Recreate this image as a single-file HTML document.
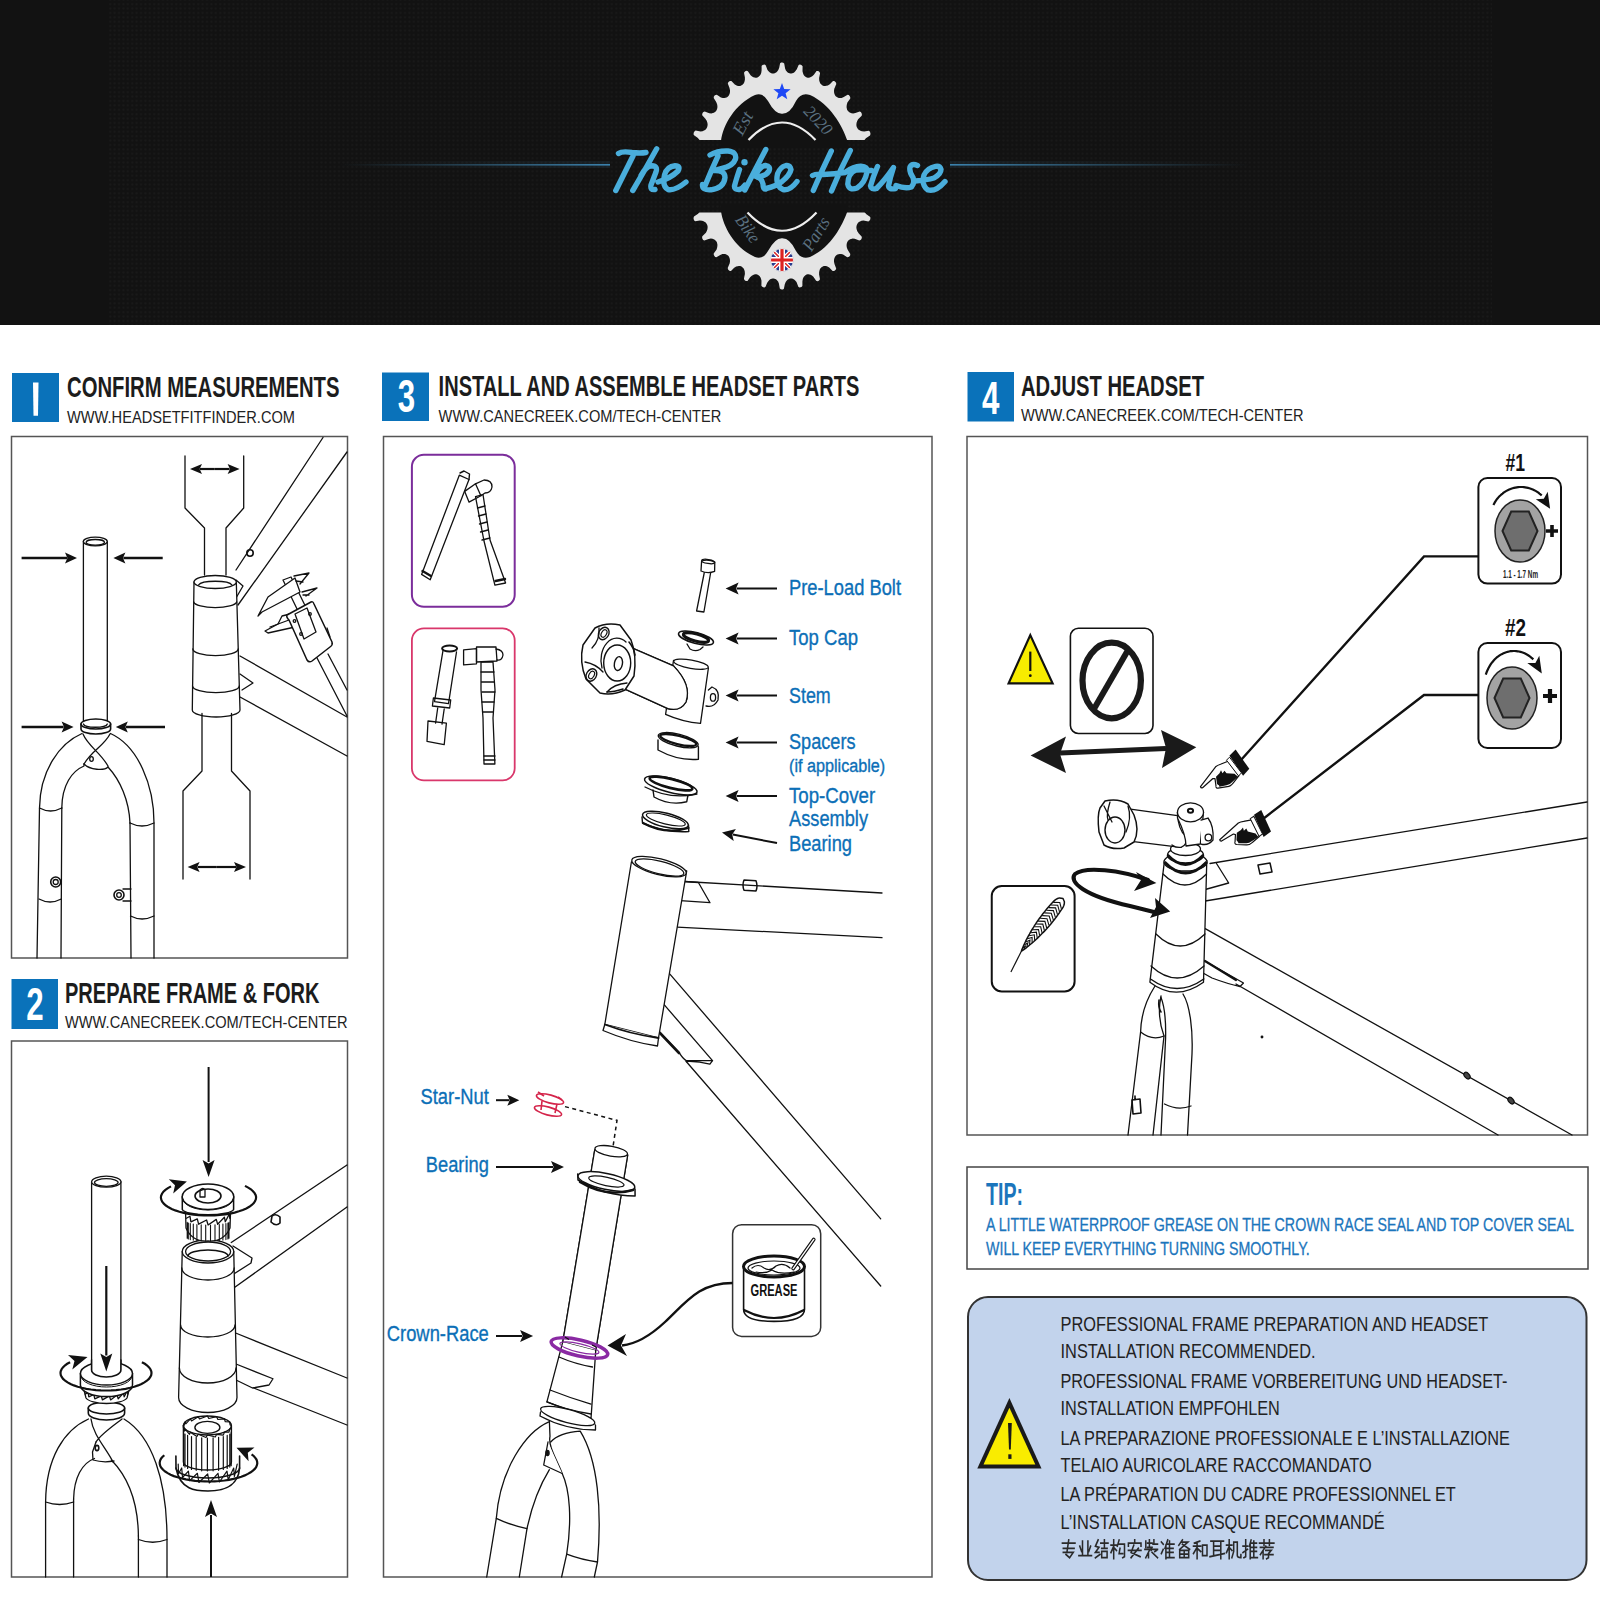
<!DOCTYPE html>
<html><head><meta charset="utf-8">
<style>
html,body{margin:0;padding:0;background:#fff;}
body{width:1600px;height:1600px;position:relative;overflow:hidden;font-family:"Liberation Sans",sans-serif;}
#hdr{position:absolute;left:0;top:0;width:1600px;height:325px;background:#121212;}
svg{position:absolute;left:0;top:0;}
</style></head><body>
<div id="hdr"></div>
<svg width="1600" height="1600" viewBox="0 0 1600 1600">
<defs>
<linearGradient id="glowL" x1="0" x2="1" y1="0" y2="0">
<stop offset="0" stop-color="#3a6f8f" stop-opacity="0"/>
<stop offset="1" stop-color="#3f8dbd" stop-opacity="0.9"/>
</linearGradient>
<linearGradient id="glowR" x1="0" x2="1" y1="0" y2="0">
<stop offset="0" stop-color="#3f8dbd" stop-opacity="0.9"/>
<stop offset="1" stop-color="#3a6f8f" stop-opacity="0"/>
</linearGradient>
<pattern id="dots" x="108" y="2" width="4.4" height="4.4" patternUnits="userSpaceOnUse"><circle cx="2.2" cy="2.2" r="1" fill="#1a1a1a"/></pattern>
<clipPath id="gclip"><rect x="600" y="40" width="400" height="100"/><rect x="600" y="212.5" width="400" height="100"/></clipPath>
</defs>
<rect x="108" y="0" width="1384" height="325" fill="url(#dots)"/>
<rect x="340" y="161" width="270" height="7" fill="url(#glowL)" opacity="0.12"/><rect x="340" y="164" width="270" height="1.6" fill="url(#glowL)"/>
<rect x="950" y="161" width="300" height="7" fill="url(#glowR)" opacity="0.12"/><rect x="950" y="164" width="300" height="1.6" fill="url(#glowR)"/>
<g clip-path="url(#gclip)">
<path fill="#e4e4e4" d="M783.2,62.7 L784.2,63.6 L785.1,68.5 L785.9,70.4 L786.8,71.6 L787.7,72.4 L788.6,73.0 L789.5,73.3 L790.4,73.5 L791.4,73.5 L792.3,73.3 L793.3,72.9 L794.4,72.2 L795.5,71.1 L796.8,69.2 L798.6,65.0 L799.7,64.6 L800.8,64.7 L801.7,65.2 L802.6,66.3 L802.5,71.3 L803.0,73.3 L803.6,74.7 L804.3,75.7 L805.1,76.5 L805.9,77.1 L806.8,77.5 L807.7,77.7 L808.7,77.7 L809.8,77.6 L810.9,77.1 L812.2,76.3 L813.9,74.8 L816.5,71.0 L817.7,70.9 L818.7,71.2 L819.5,71.9 L820.1,73.2 L819.1,78.1 L819.2,80.2 L819.6,81.7 L820.1,82.9 L820.7,83.9 L821.4,84.6 L822.2,85.2 L823.0,85.7 L824.0,85.9 L825.1,86.0 L826.3,85.8 L827.8,85.4 L829.8,84.2 L833.0,81.0 L834.2,81.1 L835.2,81.7 L835.9,82.6 L836.3,84.0 L834.3,88.7 L834.0,90.8 L834.1,92.4 L834.4,93.7 L834.8,94.8 L835.3,95.7 L836.0,96.5 L836.8,97.1 L837.7,97.6 L838.8,97.9 L840.1,98.0 L841.6,97.9 L843.8,97.1 L847.6,94.7 L848.8,95.1 L849.6,95.9 L850.2,96.9 L850.3,98.4 L847.4,102.6 L846.8,104.7 L846.6,106.3 L846.6,107.6 L846.9,108.8 L847.2,109.9 L847.8,110.8 L848.5,111.6 L849.3,112.2 L850.3,112.8 L851.5,113.2 L853.1,113.4 L855.4,113.1 L859.7,111.5 L860.8,112.1 L861.5,113.1 L861.9,114.2 L861.7,115.7 L858.1,119.3 L857.1,121.3 L856.6,122.8 L856.4,124.2 L856.4,125.4 L856.6,126.5 L857.0,127.6 L857.6,128.5 L858.3,129.4 L859.2,130.1 L860.4,130.8 L861.9,131.3 L864.2,131.5 L868.8,130.7 L869.8,131.6 L870.3,132.7 L870.5,133.9 L870.0,135.4 L865.9,138.3 L864.5,140.0 L863.7,141.4 L863.3,142.8 L863.1,144.0 L863.2,145.1 L863.4,146.2 L863.8,147.3 L864.3,148.3 L865.1,149.2 L866.2,150.1 L867.6,150.9 L869.9,151.6 L874.5,151.7 L875.3,152.8 L875.7,154.0 L875.7,155.3 L875.0,156.6 L870.4,158.6 L868.7,160.1 L867.8,161.4 L867.1,162.6 L866.7,163.8 L866.6,164.9 L866.6,166.0 L866.8,167.2 L867.2,168.2 L867.8,169.3 L868.7,170.4 L870.0,171.5 L872.2,172.6 L876.7,173.7 L877.4,174.9 L877.5,176.2 L877.3,177.4 L876.4,178.6 L871.5,179.7 L869.7,180.8 L868.5,181.8 L867.7,182.9 L867.1,184.0 L866.7,185.1 L866.6,186.2 L866.6,187.4 L866.8,188.5 L867.3,189.7 L868.0,191.0 L869.1,192.3 L871.0,193.8 L875.3,195.7 L875.7,197.1 L875.6,198.3 L875.2,199.5 L874.1,200.5 L869.2,200.6 L867.2,201.3 L865.9,202.1 L864.9,203.0 L864.2,204.0 L863.6,205.0 L863.3,206.0 L863.1,207.1 L863.2,208.3 L863.4,209.6 L863.9,210.9 L864.8,212.4 L866.4,214.3 L870.3,217.0 L870.4,218.4 L870.2,219.6 L869.6,220.6 L868.4,221.4 L863.5,220.5 L861.5,220.8 L860.0,221.4 L858.9,222.1 L858.1,222.8 L857.4,223.7 L856.9,224.7 L856.6,225.7 L856.4,226.9 L856.4,228.1 L856.7,229.5 L857.3,231.2 L858.6,233.3 L861.8,236.7 L861.8,238.1 L861.3,239.2 L860.6,240.1 L859.3,240.6 L854.7,238.8 L852.7,238.6 L851.2,238.9 L850.0,239.3 L849.1,239.9 L848.3,240.6 L847.6,241.5 L847.1,242.4 L846.8,243.5 L846.6,244.7 L846.6,246.1 L846.9,247.8 L847.8,250.1 L850.3,254.1 L850.1,255.4 L849.4,256.4 L848.5,257.1 L847.2,257.3 L843.1,254.6 L841.2,254.1 L839.7,254.0 L838.5,254.2 L837.5,254.5 L836.6,255.1 L835.8,255.7 L835.2,256.5 L834.7,257.5 L834.3,258.6 L834.0,260.0 L834.0,261.7 L834.5,264.1 L836.2,268.4 L835.7,269.7 L834.9,270.5 L834.0,270.9 L832.6,270.9 L829.2,267.4 L827.4,266.5 L826.0,266.1 L824.8,266.0 L823.8,266.1 L822.8,266.4 L822.0,266.9 L821.2,267.5 L820.5,268.3 L819.9,269.3 L819.5,270.6 L819.1,272.2 L819.1,274.6 L820.0,279.3 L819.3,280.3 L818.4,280.9 L817.4,281.2 L816.1,280.8 L813.4,276.7 L811.9,275.4 L810.6,274.7 L809.5,274.4 L808.4,274.3 L807.5,274.3 L806.6,274.6 L805.7,275.0 L804.9,275.7 L804.1,276.5 L803.4,277.6 L802.8,279.1 L802.4,281.4 L802.4,286.1 L801.5,287.0 L800.5,287.3 L799.4,287.4 L798.3,286.7 L796.5,282.1 L795.2,280.5 L794.1,279.6 L793.1,279.0 L792.1,278.6 L791.1,278.5 L790.2,278.5 L789.3,278.7 L788.4,279.2 L787.5,279.8 L786.6,280.7 L785.7,282.0 L784.8,284.2 L783.9,288.7 L782.9,289.4 L781.9,289.5 L780.8,289.3 L779.8,288.4 L778.9,283.5 L778.1,281.6 L777.2,280.4 L776.3,279.6 L775.4,279.0 L774.5,278.7 L773.6,278.5 L772.6,278.5 L771.7,278.7 L770.7,279.1 L769.6,279.8 L768.5,280.9 L767.2,282.8 L765.4,287.0 L764.3,287.4 L763.2,287.3 L762.3,286.8 L761.4,285.7 L761.5,280.7 L761.0,278.7 L760.4,277.3 L759.7,276.3 L758.9,275.5 L758.1,274.9 L757.2,274.5 L756.3,274.3 L755.3,274.3 L754.2,274.4 L753.1,274.9 L751.8,275.7 L750.1,277.2 L747.5,281.0 L746.3,281.1 L745.3,280.8 L744.5,280.1 L743.9,278.8 L744.9,273.9 L744.8,271.8 L744.4,270.3 L743.9,269.1 L743.3,268.1 L742.6,267.4 L741.8,266.8 L741.0,266.3 L740.0,266.1 L738.9,266.0 L737.7,266.2 L736.2,266.6 L734.2,267.8 L731.0,271.0 L729.8,270.9 L728.8,270.3 L728.1,269.4 L727.7,268.0 L729.7,263.3 L730.0,261.2 L729.9,259.6 L729.6,258.3 L729.2,257.2 L728.7,256.3 L728.0,255.5 L727.2,254.9 L726.3,254.4 L725.2,254.1 L723.9,254.0 L722.4,254.1 L720.2,254.9 L716.4,257.3 L715.2,256.9 L714.4,256.1 L713.8,255.1 L713.7,253.6 L716.6,249.4 L717.2,247.3 L717.4,245.7 L717.4,244.4 L717.1,243.2 L716.8,242.1 L716.2,241.2 L715.5,240.4 L714.7,239.8 L713.7,239.2 L712.5,238.8 L710.9,238.6 L708.6,238.9 L704.3,240.5 L703.2,239.9 L702.5,238.9 L702.1,237.8 L702.3,236.3 L705.9,232.7 L706.9,230.7 L707.4,229.2 L707.6,227.8 L707.6,226.6 L707.4,225.5 L707.0,224.4 L706.4,223.5 L705.7,222.6 L704.8,221.9 L703.6,221.2 L702.1,220.7 L699.8,220.5 L695.2,221.3 L694.2,220.4 L693.7,219.3 L693.5,218.1 L694.0,216.6 L698.1,213.7 L699.5,212.0 L700.3,210.6 L700.7,209.2 L700.9,208.0 L700.8,206.9 L700.6,205.8 L700.2,204.7 L699.7,203.7 L698.9,202.8 L697.8,201.9 L696.4,201.1 L694.1,200.4 L689.5,200.3 L688.7,199.2 L688.3,198.0 L688.3,196.7 L689.0,195.4 L693.6,193.4 L695.3,191.9 L696.2,190.6 L696.9,189.4 L697.3,188.2 L697.4,187.1 L697.4,186.0 L697.2,184.8 L696.8,183.8 L696.2,182.7 L695.3,181.6 L694.0,180.5 L691.8,179.4 L687.3,178.3 L686.6,177.1 L686.5,175.8 L686.7,174.6 L687.6,173.4 L692.5,172.3 L694.3,171.2 L695.5,170.2 L696.3,169.1 L696.9,168.0 L697.3,166.9 L697.4,165.8 L697.4,164.6 L697.2,163.5 L696.7,162.3 L696.0,161.0 L694.9,159.7 L693.0,158.2 L688.7,156.3 L688.3,154.9 L688.4,153.7 L688.8,152.5 L689.9,151.5 L694.8,151.4 L696.8,150.7 L698.1,149.9 L699.1,149.0 L699.8,148.0 L700.4,147.0 L700.7,146.0 L700.9,144.9 L700.8,143.7 L700.6,142.4 L700.1,141.1 L699.2,139.6 L697.6,137.7 L693.7,135.0 L693.6,133.6 L693.8,132.4 L694.4,131.4 L695.6,130.6 L700.5,131.5 L702.5,131.2 L704.0,130.6 L705.1,129.9 L705.9,129.2 L706.6,128.3 L707.1,127.3 L707.4,126.3 L707.6,125.1 L707.6,123.9 L707.3,122.5 L706.7,120.8 L705.4,118.7 L702.2,115.3 L702.2,113.9 L702.7,112.8 L703.4,111.9 L704.7,111.4 L709.3,113.2 L711.3,113.4 L712.8,113.1 L714.0,112.7 L714.9,112.1 L715.7,111.4 L716.4,110.5 L716.9,109.6 L717.2,108.5 L717.4,107.3 L717.4,105.9 L717.1,104.2 L716.2,101.9 L713.7,97.9 L713.9,96.6 L714.6,95.6 L715.5,94.9 L716.8,94.7 L720.9,97.4 L722.8,97.9 L724.3,98.0 L725.5,97.8 L726.5,97.5 L727.4,96.9 L728.2,96.3 L728.8,95.5 L729.3,94.5 L729.7,93.4 L730.0,92.0 L730.0,90.3 L729.5,87.9 L727.8,83.6 L728.3,82.3 L729.1,81.5 L730.0,81.1 L731.4,81.1 L734.8,84.6 L736.6,85.5 L738.0,85.9 L739.2,86.0 L740.2,85.9 L741.2,85.6 L742.0,85.1 L742.8,84.5 L743.5,83.7 L744.1,82.7 L744.5,81.4 L744.9,79.8 L744.9,77.4 L744.0,72.7 L744.7,71.7 L745.6,71.1 L746.6,70.8 L747.9,71.2 L750.6,75.3 L752.1,76.6 L753.4,77.3 L754.5,77.6 L755.6,77.7 L756.5,77.7 L757.4,77.4 L758.3,77.0 L759.1,76.3 L759.9,75.5 L760.6,74.4 L761.2,72.9 L761.6,70.6 L761.6,65.9 L762.5,65.0 L763.5,64.7 L764.6,64.6 L765.7,65.3 L767.5,69.9 L768.8,71.5 L769.9,72.4 L770.9,73.0 L771.9,73.4 L772.9,73.5 L773.8,73.5 L774.7,73.3 L775.6,72.8 L776.5,72.2 L777.4,71.3 L778.3,70.0 L779.2,67.8 L780.1,63.3 L781.1,62.6 L782.1,62.5Z"/>
</g>
<path fill="#121212" d="M721,147 L721,141 C723,125 735,104 755,95 Q763,92 768,101 Q775,114 782,113.75 Q790,114 796,101 Q801,92 810,95 C830,104 842,125 847.5,141 L847.5,147 Z"/>
<path fill="#121212" d="M721,205 L721,211 C723,227 735,248 755,257 Q763,260 768,251 Q775,238 782,238.25 Q790,238 796,251 Q801,260 810,257 C830,248 842,227 847.5,211 L847.5,205 Z"/>
<path d="M748.5,140 Q782,105 815.5,140" fill="none" stroke="#eee" stroke-width="2.2"/>
<path d="M747.5,212.5 Q782,249 816.5,212.5" fill="none" stroke="#eee" stroke-width="2.2"/>
<path d="M618.5,153.5 Q622,151 632,152.5 Q640,153.5 646,152.5 M633,156 Q626,170 615.8,190.5 M656.7,148.8 Q645,170 632.8,190.5 M641,175.5 Q646,166 652,165.8 Q658,166 656,172 L651,185 Q650,190.5 655,189.5 M658,182 Q671,178 678,171 Q681,166 675,165.8 Q667,166.5 664.5,175 Q662,186 668,189.5 Q675,191 686,182 M710,155 Q718,150.5 728,151 Q737,152 735.5,159 Q733,166 722,168.5 L714,170.5 Q725,170 725,177.5 Q724,188 711,189.8 Q702,190.5 702.5,184.5 M718,156 Q711,171 704.5,187 M739.5,169.5 Q736,180 734.5,186 Q734,190 739.5,189.5 Q743,188 745,185 M765.8,149.5 Q755,170 744.8,190 M755,176 Q760,166 765.5,165.5 Q771,166 769,171 Q766,176 757,177 Q762,178 763,184 Q763,189.5 766,189 M766,188.5 Q777,186 782,181.5 Q790,175 791,169.5 Q790,165 786,165.5 Q780,167 777.5,174 Q775,186 783,189.5 Q790,191 797,181.5 M831.3,151 Q822,170 813.3,190.5 M850.3,150.5 Q840,170 831.5,191 M812.5,175.5 Q816,173.5 823,174.5 Q835,174 845,172.5 M845,172.5 Q854,166 861,166.3 Q868,166.5 867,172 Q865,183 857,188 Q849,191 847.8,184 Q848,173 856,170 Q864,169.5 871.5,170.5 M877.5,166.5 Q873,177 870.5,186 Q871,190 876.5,188.5 Q885,180 893.5,167.5 Q890,178 888.5,186 Q889,190 895.5,188.5 M896,185.5 Q905,189 911.5,187 Q915,183 913,177.5 Q909,172 910,167 Q912,163 917.5,165.5 M915.5,181 Q927,180 934,178 Q941,174 941,169.5 Q940,165.5 935.5,166.3 Q927,168 924,175 Q921,185 928,190 Q936,192 945,181.5 " fill="none" stroke="#4aaedc" stroke-width="5.4" stroke-linecap="round" stroke-linejoin="round"/><circle cx="744.5" cy="162.3" r="3.2" fill="#4aaedc"/>
<rect x="11.5" y="436.5" width="336" height="521.5" fill="none" stroke="#555" stroke-width="1.5"/>
<rect x="11.5" y="1041" width="336" height="536" fill="none" stroke="#555" stroke-width="1.5"/>
<rect x="383.5" y="436.5" width="548.5" height="1140.5" fill="none" stroke="#555" stroke-width="1.5"/>
<rect x="967" y="436.5" width="620.5" height="698.5" fill="none" stroke="#555" stroke-width="1.5"/>
<rect x="967" y="1167" width="621" height="102" fill="none" stroke="#444" stroke-width="1.5"/>
<rect x="968" y="1297" width="618.5" height="283" rx="20" ry="20" fill="#c2d3ec" stroke="#333" stroke-width="2"/>
<rect x="12" y="373" width="47" height="49" fill="#0a72ba"/>
<path d="M33,382.5 L38.5,382.5 L38,415.8 L33.5,415.8 Z" fill="#fff"/><text x="67" y="397" font-family="Liberation Sans" font-size="29.5" font-weight="bold" fill="#1c1c1c" text-anchor="start" textLength="272.5" lengthAdjust="spacingAndGlyphs">CONFIRM MEASUREMENTS</text>
<text x="67" y="422.5" font-family="Liberation Sans" font-size="16.5" font-weight="normal" fill="#222" text-anchor="start" textLength="228" lengthAdjust="spacingAndGlyphs">WWW.HEADSETFITFINDER.COM</text>
<rect x="382" y="372.5" width="47" height="48.5" fill="#0a72ba"/>
<text x="406.5" y="412" font-family="Liberation Sans" font-size="46" font-weight="bold" fill="#fff" text-anchor="middle" transform="translate(406.5 0) scale(0.68 1) translate(-406.5 0)">3</text>
<text x="438.6" y="395.7" font-family="Liberation Sans" font-size="29.5" font-weight="bold" fill="#1c1c1c" text-anchor="start" textLength="420.7" lengthAdjust="spacingAndGlyphs">INSTALL AND ASSEMBLE HEADSET PARTS</text>
<text x="438.6" y="422" font-family="Liberation Sans" font-size="16.5" font-weight="normal" fill="#222" text-anchor="start" textLength="282.7" lengthAdjust="spacingAndGlyphs">WWW.CANECREEK.COM/TECH-CENTER</text>
<rect x="967.5" y="372" width="46.5" height="49.5" fill="#0a72ba"/>
<text x="990.6" y="414.2" font-family="Liberation Sans" font-size="46" font-weight="bold" fill="#fff" text-anchor="middle" transform="translate(990.6 0) scale(0.68 1) translate(-990.6 0)">4</text>
<text x="1021" y="396" font-family="Liberation Sans" font-size="29.5" font-weight="bold" fill="#1c1c1c" text-anchor="start" textLength="183" lengthAdjust="spacingAndGlyphs">ADJUST HEADSET</text>
<text x="1021" y="421" font-family="Liberation Sans" font-size="16.5" font-weight="normal" fill="#222" text-anchor="start" textLength="282.6" lengthAdjust="spacingAndGlyphs">WWW.CANECREEK.COM/TECH-CENTER</text>
<rect x="11.5" y="979" width="46.5" height="50" fill="#0a72ba"/>
<text x="35" y="1020.5" font-family="Liberation Sans" font-size="46" font-weight="bold" fill="#fff" text-anchor="middle" transform="translate(35 0) scale(0.68 1) translate(-35 0)">2</text>
<text x="65" y="1002.5" font-family="Liberation Sans" font-size="29.5" font-weight="bold" fill="#1c1c1c" text-anchor="start" textLength="254.5" lengthAdjust="spacingAndGlyphs">PREPARE FRAME &amp; FORK</text>
<text x="65" y="1027.5" font-family="Liberation Sans" font-size="16.5" font-weight="normal" fill="#222" text-anchor="start" textLength="282.5" lengthAdjust="spacingAndGlyphs">WWW.CANECREEK.COM/TECH-CENTER</text>
<text x="986" y="1204.5" font-family="Liberation Sans" font-size="31" font-weight="bold" fill="#1b75bc" text-anchor="start" textLength="37" lengthAdjust="spacingAndGlyphs">TIP:</text>
<text x="986" y="1230.6" font-family="Liberation Sans" font-size="19" font-weight="normal" fill="#1b75bc" text-anchor="start" textLength="588" lengthAdjust="spacingAndGlyphs" stroke="#1b75bc" stroke-width="0.3">A LITTLE WATERPROOF GREASE ON THE CROWN RACE SEAL AND TOP COVER SEAL</text>
<text x="986" y="1255.4" font-family="Liberation Sans" font-size="19" font-weight="normal" fill="#1b75bc" text-anchor="start" textLength="323.8" lengthAdjust="spacingAndGlyphs" stroke="#1b75bc" stroke-width="0.3">WILL KEEP EVERYTHING TURNING SMOOTHLY.</text>
<text x="1060.5" y="1330.8" font-family="Liberation Sans" font-size="20.6" font-weight="normal" fill="#222" text-anchor="start" textLength="427.8" lengthAdjust="spacingAndGlyphs">PROFESSIONAL FRAME PREPARATION AND HEADSET</text>
<text x="1060.5" y="1358.4" font-family="Liberation Sans" font-size="20.6" font-weight="normal" fill="#222" text-anchor="start" textLength="255.1" lengthAdjust="spacingAndGlyphs">INSTALLATION RECOMMENDED.</text>
<text x="1060.5" y="1387.7" font-family="Liberation Sans" font-size="20.6" font-weight="normal" fill="#222" text-anchor="start" textLength="446.9" lengthAdjust="spacingAndGlyphs">PROFESSIONAL FRAME VORBEREITUNG UND HEADSET-</text>
<text x="1060.5" y="1415.3" font-family="Liberation Sans" font-size="20.6" font-weight="normal" fill="#222" text-anchor="start" textLength="219.4" lengthAdjust="spacingAndGlyphs">INSTALLATION EMPFOHLEN</text>
<text x="1060.5" y="1444.5" font-family="Liberation Sans" font-size="20.6" font-weight="normal" fill="#222" text-anchor="start" textLength="449.3" lengthAdjust="spacingAndGlyphs">LA PREPARAZIONE PROFESSIONALE E L’INSTALLAZIONE</text>
<text x="1060.5" y="1472.2" font-family="Liberation Sans" font-size="20.6" font-weight="normal" fill="#222" text-anchor="start" textLength="311.2" lengthAdjust="spacingAndGlyphs">TELAIO AURICOLARE RACCOMANDATO</text>
<text x="1060.5" y="1501.4" font-family="Liberation Sans" font-size="20.6" font-weight="normal" fill="#222" text-anchor="start" textLength="395.3" lengthAdjust="spacingAndGlyphs">LA PRÉPARATION DU CADRE PROFESSIONNEL ET</text>
<text x="1060.5" y="1529" font-family="Liberation Sans" font-size="20.6" font-weight="normal" fill="#222" text-anchor="start" textLength="324.2" lengthAdjust="spacingAndGlyphs">L’INSTALLATION CASQUE RECOMMANDÉ</text>
<path d="M1009.4,1398 L1041.5,1468.5 L977.3,1468.5 Z" fill="#1a1a1a"/><path d="M1009.4,1407.7 L1035.3,1464.5 L983.5,1464.5 Z" fill="#f9ec00"/>
<path d="M1008,1423 L1011.8,1423 L1010.8,1449.5 L1009,1449.5 Z" fill="#1a1a1a"/><rect x="1008.3" y="1454.3" width="3.2" height="4.6" fill="#1a1a1a"/>
<g fill="none" stroke="#111" stroke-width="1.3" stroke-linejoin="round" stroke-linecap="round"><path d="M83.4,541.5 L83.4,722 M107.3,541.5 L107.3,722"/><ellipse cx="95.3" cy="541.5" rx="11.95" ry="4.3" fill="#fff"/><ellipse cx="95.3" cy="542.3" rx="9.2" ry="2.8"/><path d="M81,724 A14.6,5 0 0,0 110.6,724 A14.6,5 0 0,0 81,724 Z" fill="#fff" stroke-width="1.6"/><path d="M81,724 L81,729 A14.6,5 0 0,0 110.6,729 L110.6,724" stroke-width="1.6"/><path d="M83.4,724 A12,3.6 0 0,0 107.3,724" /><path d="M82,733.5 C60,743 40,770 39.5,808 L37,958"/><path d="M61.8,808 C62,785 72,771 84,766 L84,764"/><path d="M110.5,733.5 C138,746 154,785 154,823 L154,958"/><path d="M130,823 C129,800 120,780 108,767"/><path d="M83,734 C88,746 100,752 108,766 M110,734 C104,746 92,750 84,764"/><path d="M84,764 C90,770 104,771 108,767"/><ellipse cx="91.5" cy="759" rx="1.8" ry="2.3"/><path d="M61.8,808 L61,958 M130,823 L131,958"/><path d="M39.5,808 Q50.5,814 61.8,808 M39,899 Q50,905 61.3,899 M130,823 Q142,829 154,823 M130.5,916 Q142,922 154,916"/><circle cx="55.7" cy="882" r="5" stroke-width="1.6"/><circle cx="55.7" cy="882" r="2.5"/><circle cx="119" cy="895" r="5" stroke-width="1.6"/><circle cx="119" cy="895" r="2.3"/><path d="M123,889 L131,889 M123,901 L131,901"/><path d="M323,437.5 L236,570 M347,452 L238,605 M240,656 L347,717 M240,697 L347,756"/><circle cx="250" cy="553" r="3.2" stroke-width="1.6"/><path d="M236,580 L243,586 L236,598 M240,674 L253,683 L242,690"/></g><g fill="none" stroke="#111" stroke-width="1.3" stroke-linejoin="round" stroke-linecap="round"><path d="M194,582 L192.3,710 A23.8,7 0 0,0 240,710 L236.3,582 Z" fill="#fff"/><ellipse cx="215.15" cy="582" rx="21.15" ry="6.5" fill="#fff"/><path d="M198.5,585 A17,4.5 0 0,1 232,585"/><path d="M193.7,602 A21.5,6 0 0,0 236.6,602 M192.8,649 A22.5,6.5 0 0,0 238.2,649 M192.5,686 A23,6.5 0 0,0 239.3,686"/><path d="M185,456 L185,508 L204.5,528 L204.5,575 M243.7,456 L243.7,508 L226,528 L226,575"/><path d="M202,713.5 L202,771 L183,791 L183,879 M231.5,713.5 L231.5,771 L250,791 L250,879"/></g><line x1="214.8" y1="469.0" x2="229.6" y2="469.0" stroke="#111" stroke-width="2.2"/><path d="M239.6,469.0 L227.6,474.0 L230.0,469.0 L227.6,464.0Z" fill="#111"/>
<line x1="214.8" y1="469.0" x2="200.0" y2="469.0" stroke="#111" stroke-width="2.2"/><path d="M190.0,469.0 L202.0,464.0 L199.6,469.0 L202.0,474.0Z" fill="#111"/>
<line x1="216.8" y1="867.0" x2="236.0" y2="867.0" stroke="#111" stroke-width="2.2"/><path d="M246.0,867.0 L234.0,872.0 L236.4,867.0 L234.0,862.0Z" fill="#111"/>
<line x1="216.8" y1="867.0" x2="197.6" y2="867.0" stroke="#111" stroke-width="2.2"/><path d="M187.6,867.0 L199.6,862.0 L197.2,867.0 L199.6,872.0Z" fill="#111"/>
<line x1="21.6" y1="558.0" x2="67.0" y2="558.0" stroke="#111" stroke-width="2.4"/><path d="M77.0,558.0 L65.0,563.5 L67.4,558.0 L65.0,552.5Z" fill="#111"/>
<line x1="162.7" y1="558.0" x2="123.4" y2="558.0" stroke="#111" stroke-width="2.4"/><path d="M113.4,558.0 L125.4,552.5 L123.0,558.0 L125.4,563.5Z" fill="#111"/>
<line x1="21.6" y1="727.0" x2="63.6" y2="727.0" stroke="#111" stroke-width="2.4"/><path d="M73.6,727.0 L61.6,732.5 L64.0,727.0 L61.6,721.5Z" fill="#111"/>
<line x1="165.0" y1="727.0" x2="125.8" y2="727.0" stroke="#111" stroke-width="2.4"/><path d="M115.8,727.0 L127.8,721.5 L125.4,727.0 L127.8,732.5Z" fill="#111"/>
<g fill="none" stroke="#111" stroke-width="1.3" stroke-linejoin="round" stroke-linecap="round" stroke-width="1.2"><path d="M316,656 L347,716 M328,654 L347,690" /><path d="M283,580 L291,577 L322,640 L314,644 Z" fill="#fff"/><path d="M258,616 L268,597 L295,578 L300,592 L262,612 Z" fill="#fff"/><path d="M294,576 L309,573 L300,584 M296,581 L303,582"/><path d="M302,592 L317,588 L306,596 M303,595 L309,595"/><path d="M265,631 L278,624 L282,616 L290,614 L295,627 L268,633 Z" fill="#fff"/><path d="M270,627 L289,620"/><path d="M287,615 L311,602 Q313,601 314,604 L332,642 Q333,645 330,647 L312,661 Q309,663 307,660 L289,620 Q286,617 287,615 Z" fill="#fff" stroke-width="1.5"/><path d="M295,614 L307,608 L316,632 L304,639 Z"/><circle cx="294.5" cy="621" r="1.3"/><circle cx="310" cy="614" r="1.3"/><circle cx="301" cy="634" r="1.3"/><path d="M327,628 L330,637"/></g>
<g fill="none" stroke="#111" stroke-width="1.3" stroke-linejoin="round" stroke-linecap="round"><path d="M347,1165 L231.25,1242.5 M347,1207 L233.75,1288 M235.6,1333 L347,1378 M253.75,1388 L347,1425"/><path d="M233,1246 L252,1258 L251,1263 L233.75,1274 M236,1364 L273,1378.75 L269,1385 L252.5,1388 L236,1380"/><path d="M271,1222 L272,1216 Q276,1213 280,1217 L280,1223 Q276,1227 271,1222 Z" stroke-width="1.6"/><path d="M88.5,1419 C64,1430 46,1458 45.6,1502 L45.6,1577"/><path d="M73.6,1499 C74,1478 82,1463 94.5,1458.5"/><path d="M124,1419 C152,1436 167,1480 167,1539.5 L167,1577"/><path d="M138.4,1536 C138,1500 126,1475 111.4,1460"/><path d="M73.6,1499 L73.6,1577 M138.4,1536 L138.4,1577"/><path d="M91,1419 C93,1435 106,1448 113,1462 M122,1419 C110,1428 100,1435 96,1442"/><path d="M96,1442 L92.5,1452 L93,1460 Q103,1463 114,1461"/><ellipse cx="97" cy="1448" rx="1.8" ry="2.6" stroke-width="1.6"/><path d="M45.6,1502 Q59.6,1507 73.6,1502 M138.4,1539.5 Q152.7,1545 167,1539.5"/></g><g fill="none" stroke="#111" stroke-width="1.3" stroke-linejoin="round" stroke-linecap="round"><path d="M91.6,1181.7 L91.6,1373 M120.9,1181.7 L120.9,1373"/><ellipse cx="106.3" cy="1181.7" rx="14.65" ry="5.5" fill="#fff"/><ellipse cx="106.3" cy="1182.5" rx="11.8" ry="3.8"/><path d="M88.3,1408 L88.3,1413 A18.15,7 0 0,0 124.6,1413 L124.6,1408" fill="#fff" stroke-width="1.6"/><ellipse cx="106.45" cy="1408" rx="18.15" ry="6" fill="#fff" stroke-width="1.6"/><path d="M83,1386 L86,1398 A21,7 0 0,0 127,1398 L130,1386" fill="#fff"/><path d="M127.8,1394.1 L127.4,1390.5 L124.2,1396.8 L123.4,1393.1 L118.2,1398.8 L117.1,1395.0 L110.6,1399.9 L109.4,1395.9 L102.4,1399.9 L101.2,1395.8 L94.8,1398.8 L93.8,1394.5 L88.8,1396.8 L88.1,1392.4 L85.2,1394.1" stroke-width="1.3"/><path d="M80.4,1373.4 L80.4,1385 A26,11.6 0 0,0 132.5,1385 L132.5,1373.4" fill="#fff" stroke-width="1.5"/><ellipse cx="106.45" cy="1373.4" rx="26" ry="11.6" fill="#fff" stroke-width="1.5"/><path d="M81,1376 A25.5,11 0 0,0 132,1376" stroke-width="1"/><path d="M91.6,1360 L91.6,1370 A14.65,7 0 0,0 120.9,1370 L120.9,1360" fill="#fff" stroke-width="1.6"/></g><path d="M141.9,1362.2 L144.8,1363.8 L147.2,1365.5 L149.1,1367.4 L150.4,1369.2 L151.3,1371.2 L151.5,1373.1 L151.2,1375.1 L150.3,1377.0 L148.9,1378.9 L146.9,1380.7 L144.4,1382.4 L141.5,1384.0 L138.1,1385.4 L134.3,1386.7 L130.1,1387.8 L125.7,1388.8 L121.0,1389.5 L116.1,1390.1 L111.1,1390.4 L106.0,1390.5 L100.9,1390.4 L95.9,1390.1 L91.0,1389.5 L86.3,1388.8 L81.9,1387.8 L77.7,1386.7 L73.9,1385.4 L70.5,1384.0 L67.6,1382.4 L65.1,1380.7 L63.1,1378.9 L61.7,1377.0 L60.8,1375.1 L60.5,1373.1 L60.7,1371.2 L61.6,1369.2 L62.9,1367.4 L64.8,1365.5 L67.2,1363.8 L70.1,1362.2" fill="none" stroke="#111" stroke-width="2.2"/><path d="M87.5,1357.0 L72.3,1369.4 L74.5,1360.9 L68.0,1355.0Z" fill="#111"/>
<line x1="106.3" y1="1266.0" x2="106.3" y2="1355.5" stroke="#111" stroke-width="2.2"/><path d="M106.3,1371.5 L100.3,1353.5 L106.3,1357.1 L112.3,1353.5Z" fill="#111"/>
<g fill="none" stroke="#111" stroke-width="1.3" stroke-linejoin="round" stroke-linecap="round"><path d="M182.25,1251.5 L178.6,1397.5 A29.2,15 0 0,0 237,1397.5 L233.75,1251.5 Z" fill="#fff"/><ellipse cx="208" cy="1251.5" rx="25.75" ry="11.5" fill="#fff"/><ellipse cx="208.1" cy="1251.5" rx="22.5" ry="9.5"/><path d="M188,1256 A20,6 0 0,1 228,1256" stroke-width="1.6"/><path d="M181.8,1268 A26.2,12 0 0,0 234.2,1268 M180.6,1325 A27.2,12 0 0,0 235,1325 M179.4,1368 A28.3,15 0 0,0 236,1368"/></g><g fill="none" stroke="#111" stroke-width="1.3" stroke-linejoin="round" stroke-linecap="round"><path d="M185.6,1213 L186,1228 Q192,1242 208,1241 Q224,1242 230,1228 L230.5,1213" fill="#fff"/><path d="M187.2,1222.3 L187.2,1238.3 M188.3,1223.0 L188.3,1239.0 M190.3,1223.6 L190.3,1239.6 M193.3,1224.1 L193.3,1240.1 M196.9,1224.5 L196.9,1240.5 M201.2,1224.8 L201.2,1240.8 M205.7,1225.0 L205.7,1241.0 M210.5,1225.0 L210.5,1241.0 M215.0,1224.8 L215.0,1240.8 M219.3,1224.5 L219.3,1240.5 M222.9,1224.1 L222.9,1240.1 M225.9,1223.6 L225.9,1239.6 M227.9,1223.0 L227.9,1239.0 M229.0,1222.3 L229.0,1238.3 " stroke-width="1.1"/><path d="M229.8,1218.3 L229.4,1213.9 L225.3,1221.8 L224.4,1217.2 L217.6,1224.2 L216.3,1219.4 L208.1,1225.0 L206.6,1220.0 L198.6,1224.2 L197.3,1218.9 L190.9,1221.8 L190.0,1216.3 L186.4,1218.3" stroke-width="1.3"/><path d="M182.3,1196.7 L182.3,1209.5 A25.8,6 0 0,0 233.6,1209.5 L233.6,1196.7" fill="#fff" stroke-width="1.5"/><ellipse cx="208" cy="1196.7" rx="25.8" ry="12.7" fill="#fff" stroke-width="1.5"/><path d="M183,1199 A25,11 0 0,0 233,1199" stroke-width="1"/><ellipse cx="208" cy="1196" rx="13" ry="7" stroke-width="1.6"/><path d="M200,1190 Q203,1187 205,1190 L205,1197 L200,1197 Z" stroke-width="1.3"/></g><path d="M245.0,1185.9 L248.2,1187.6 L250.9,1189.3 L253.0,1191.2 L254.6,1193.1 L255.7,1195.1 L256.1,1197.1 L255.9,1199.1 L255.1,1201.1 L253.8,1203.1 L251.8,1205.0 L249.3,1206.8 L246.3,1208.4 L242.8,1210.0 L238.9,1211.3 L234.6,1212.6 L230.0,1213.6 L225.1,1214.4 L219.9,1215.0 L214.7,1215.3 L209.3,1215.5 L204.0,1215.4 L198.7,1215.1 L193.5,1214.6 L188.5,1213.8 L183.8,1212.9 L179.4,1211.7 L175.3,1210.4 L171.7,1208.9 L168.6,1207.3 L165.9,1205.5 L163.8,1203.7 L162.2,1201.7 L161.3,1199.7 L160.9,1197.7 L161.1,1195.7 L162.0,1193.7 L163.4,1191.7 L165.4,1189.9 L167.9,1188.1 L171.0,1186.4" fill="none" stroke="#111" stroke-width="2.2"/><path d="M186.9,1181.5 L173.2,1193.6 L175.0,1185.2 L168.8,1179.3Z" fill="#111"/>
<line x1="208.6" y1="1067.0" x2="208.6" y2="1162.0" stroke="#111" stroke-width="2"/><path d="M208.6,1177.0 L202.6,1160.0 L208.6,1163.4 L214.6,1160.0Z" fill="#111"/>
<g fill="none" stroke="#111" stroke-width="1.3" stroke-linejoin="round" stroke-linecap="round"><path d="M175.9,1456 L176,1468 C180,1490 196,1491 208,1491 C222,1491 238,1488 239.6,1468 L239.6,1456" fill="#fff" stroke-width="1.6"/><path d="M176,1468 A31.8,10 0 0,0 239.6,1468" stroke-width="1.6"/><path d="M178.2,1464.1 L178.5,1473.7 L181.7,1468.0 L182.5,1477.5 L188.4,1471.2 L189.6,1480.6 L197.4,1473.3 L198.9,1482.5 L207.7,1474.0 L209.3,1483.0 L218.0,1473.3 L219.4,1482.0 L227.0,1471.2 L228.2,1479.8 L233.7,1468.0 L234.4,1476.4 L237.2,1464.1" stroke-width="1.2"/><path d="M183.4,1425.5 L183.4,1462 A24,8 0 0,0 231.4,1462 L231.4,1425.5" fill="#fff" stroke-width="1.4"/><path d="M183.6,1432.7 L183.6,1465.7 M185.0,1434.1 L185.0,1467.1 M187.6,1435.4 L187.6,1468.4 M191.5,1436.5 L191.5,1469.5 M196.2,1437.3 L196.2,1470.3 M201.7,1437.8 L201.7,1470.8 M207.4,1438.0 L207.4,1471.0 M213.1,1437.8 L213.1,1470.8 M218.6,1437.3 L218.6,1470.3 M223.3,1436.5 L223.3,1469.5 M227.2,1435.4 L227.2,1468.4 M229.8,1434.1 L229.8,1467.1 M231.2,1432.7 L231.2,1465.7 " stroke-width="1.2"/><ellipse cx="207.4" cy="1425.5" rx="24" ry="9.5" fill="#fff" stroke-width="1.4"/><path d="M231.4,1425.5 L231.4,1428.6 L229.6,1429.1 L229.0,1432.1 L224.4,1432.2 L223.3,1435.1 L216.6,1434.3 L215.3,1437.0 L207.4,1435.0 L206.0,1437.5 L198.2,1434.3 L196.9,1436.5 L190.4,1432.2 L189.5,1434.3 L185.2,1429.1 L184.7,1431.1 L183.4,1425.5 L183.4,1427.4 L185.2,1421.9 L185.8,1423.9 L190.4,1418.8 L191.5,1420.9 L198.2,1416.7 L199.5,1419.0 L207.4,1416.0 L208.8,1418.5 L216.6,1416.7 L217.9,1419.5 L224.4,1418.8 L225.3,1421.7 L229.6,1421.9 L230.1,1424.9 L231.4,1425.5" stroke-width="1.2"/><ellipse cx="207.4" cy="1427.4" rx="12.5" ry="6" stroke-width="1.4"/></g><path d="M164.3,1455.2 L162.4,1456.9 L161.0,1458.7 L160.1,1460.6 L159.7,1462.5 L159.8,1464.3 L160.4,1466.2 L161.5,1468.0 L163.1,1469.8 L165.2,1471.5 L167.7,1473.1 L170.6,1474.7 L173.9,1476.1 L177.6,1477.3 L181.6,1478.4 L185.9,1479.4 L190.4,1480.2 L195.1,1480.8 L199.9,1481.2 L204.8,1481.4 L209.8,1481.5 L214.7,1481.3 L219.6,1481.0 L224.4,1480.5 L229.0,1479.8 L233.4,1478.9 L237.5,1477.9 L241.3,1476.7 L244.8,1475.4 L247.9,1473.9 L250.7,1472.3 L252.9,1470.6 L254.8,1468.9 L256.1,1467.1 L256.9,1465.2 L257.3,1463.4 L257.1,1461.5 L256.5,1459.6 L255.3,1457.8 L253.7,1456.0 L251.6,1454.3" fill="none" stroke="#111" stroke-width="2.2"/><path d="M236.5,1447.8 L254.5,1447.4 L247.8,1452.7 L248.6,1461.2Z" fill="#111"/>
<line x1="211.0" y1="1577.0" x2="211.0" y2="1515.0" stroke="#111" stroke-width="2"/><path d="M211.0,1500.0 L217.0,1517.0 L211.0,1513.6 L205.0,1517.0Z" fill="#111"/>

<rect x="411.9" y="454.7" width="102.8" height="152" rx="12" ry="12" fill="none" stroke="#7b2d9b" stroke-width="2"/>
<rect x="411.9" y="628.3" width="102.8" height="152" rx="12" ry="12" fill="none" stroke="#d9376b" stroke-width="1.8"/>
<g fill="none" stroke="#111" stroke-width="1.3" stroke-linejoin="round" stroke-linecap="round" stroke-width="1.8"><path d="M459.3,475.2 L469,479.5 L430.2,579.8 L421.6,574.4 Z"/><path d="M460,473 L464,471 L469.5,474 L469,479.5" stroke-width="1.4"/><path d="M422.5,571 L431,576" stroke-width="2.4"/><path d="M475.5,496.7 L483,494.5 L490,540 L505.6,583 L494.9,585.1 L484,541 Z"/><path d="M477.5,508 L485,506 M478.5,516 L486,514 M479.5,524 L487,522 M480.5,532 L488,530 M482,540 L490,538"/><path d="M464.7,491.4 L475.5,483.8 L480.9,495.7 L469,502.1 Z"/><path d="M475.5,483.8 L484,480 Q492,480 492,487 Q491,493 485,493 L480.9,495.7"/><path d="M495.5,581 L505,579" stroke-width="2.4"/><ellipse cx="449.6" cy="648.5" rx="7.5" ry="3" stroke-width="2"/><path d="M443.1,649.8 L434.5,701.6 L448.5,703.7 L456.5,652"/><path d="M433.4,698 L450.7,700 L449.7,708 L432.4,706 Z"/><path d="M437.7,708 L435.6,723 M444.2,709 L442,724.2"/><path d="M428,721 L446.4,723.1 L444.2,744.7 L427,741.4 Z"/><path d="M463.6,649.8 L476.5,648.7 L476.5,663.8 L463.6,664.9 Z"/><path d="M476.5,647 L496,647 L497,661 L476.5,662 Z"/><path d="M496,649 Q503,650 503,655 Q502,661 497,660"/><path d="M481,662 L493,662 L495,690 L493,718 L494.9,764 L484,764 L483,718 L481,690 Z"/><path d="M481,672 L494,672 M481.5,682 L494.5,682 M482,692 L495,692 M482,702 L494,702 M482.5,712 L493.5,712 M484,756 L495,756 M484,760 L495,760"/></g>
<g fill="none" stroke="#111" stroke-width="1.3" stroke-linejoin="round" stroke-linecap="round"><path d="M684.5,881.5 L882,893 M677.1,927.1 L882,937.6"/><path d="M684.5,881.5 L698.4,882.5 L710,902.7 L680.3,900.6"/><path d="M669.7,973.9 L880.7,1218.8 M662.6,1002.9 L712.5,1060.6 M686.2,1061.5 L880.7,1286"/><path d="M659.1,1031.7 L679.2,1052.7 Q683,1059 686.2,1060.6 L712.5,1060.6 L709.9,1064.1 Q698,1061 686.2,1061.5"/><path d="M660,1033 L679,1053" stroke-width="2.6"/><path d="M744,880 L756,880.7 Q758,886 756,891 L744,890.3 Q742,885 744,880 Z" stroke-width="1.5"/></g>
<g fill="none" stroke="#111" stroke-width="1.3" stroke-linejoin="round" stroke-linecap="round"><path d="M631.4,862 L604.8,1024.5 L658.5,1038 L686.7,871 Z" fill="#fff"/><ellipse cx="659" cy="866.6" rx="28" ry="8" transform="rotate(14 659 866.6)" fill="#fff"/><ellipse cx="659.5" cy="867.5" rx="25" ry="6.3" transform="rotate(14 659.5 867.5)" /><path d="M604.8,1024.5 L603,1030.5 Q630,1042 657.5,1046 L658.5,1038" fill="#fff"/><path d="M604.8,1024.5 Q630,1034 658.5,1038" stroke-width="1.8"/></g>
<g fill="none" stroke="#111" stroke-width="1.3" stroke-linejoin="round" stroke-linecap="round"><path d="M704.4,572 L696.6,611 L703.9,612 L710.6,573" fill="#fff"/><path d="M701.6,561 L701,571 Q708,574 714.6,571.4 L714.8,562 Q708,559 701.6,561 Z" fill="#fff"/><ellipse cx="708.2" cy="561.5" rx="6.5" ry="2" transform="rotate(8 708.2 561.5)" /><ellipse cx="696" cy="638" rx="18" ry="5.5" transform="rotate(15 696 638)" fill="#fff" stroke-width="1.6"/><ellipse cx="696" cy="637.5" rx="13" ry="3.6" transform="rotate(15 696 637.5)" stroke-width="3"/><path d="M687,644 L690,649 Q695,652 700,649.5 L703,647"/><path d="M630.7,647.3 L673.5,665.9 M618.4,686.1 L667.9,708.6"/><path d="M673.5,665.9 Q692,685 686,702 Q680,712 667.9,708.6" fill="#fff"/><path d="M673.5,660.5 L665.6,714.3 Q683,722 700.5,723.3 L708.4,668" /><path d="M673.5,665.9 L630.7,647.3 L618.4,686.1 L667.9,708.6 Q680,712 686,702 Q692,685 673.5,665.9" fill="#fff" stroke="none"/><path d="M630.7,647.3 L673.5,665.9 M618.4,686.1 L667.9,708.6 M673.5,665.9 Q692,685 686,702 Q680,712 667.9,708.6"/><ellipse cx="691" cy="664.2" rx="17.5" ry="4.2" transform="rotate(10 691 664.2)" fill="#fff"/><path d="M708.4,690 L712,687 Q720,690 718,700 Q714,708 706,706" fill="#fff"/><ellipse cx="713" cy="697.4" rx="2.6" ry="3.8"/><path d="M595,628 Q606,622 620,625 L631,640 Q637,655 634,676 L625,690 Q612,696 600,693 L586,679 Q579,662 583,645 Z" fill="#fff" stroke-width="1.5"/><path d="M599,628 Q600,640 592,648 M627,683 Q614,684 607,692 M585,662 Q596,664 603,672"/><ellipse cx="617.2" cy="663" rx="13.5" ry="18" transform="rotate(0 617.2 663)" fill="#fff" stroke-width="1.4"/><ellipse cx="618.4" cy="663.6" rx="4" ry="7" transform="rotate(10 618.4 663.6)" stroke-width="1.4"/><path d="M602,668 A16,22 0 0,1 626,642" stroke-width="1.3"/><ellipse cx="603.7" cy="633.5" rx="5" ry="6.5" transform="rotate(30 603.7 633.5)" stroke-width="1.4"/><ellipse cx="604" cy="633.5" rx="2.5" ry="4" transform="rotate(30 604 633.5)" stroke-width="1.2"/><ellipse cx="591.4" cy="675" rx="5" ry="6.5" transform="rotate(30 591.4 675)" stroke-width="1.4"/><ellipse cx="591.6" cy="675" rx="2.5" ry="4" transform="rotate(30 591.6 675)" stroke-width="1.2"/><path d="M629,642 Q634,648 635,655 M623,689 Q614,692 607,692" stroke-width="1.6"/></g>
<g fill="none" stroke="#111" stroke-width="1.3" stroke-linejoin="round" stroke-linecap="round"><path d="M658,740 L658,750 Q678,761 698.4,759.3 L698.4,746.6" fill="#fff" stroke-width="1.4"/><ellipse cx="678.2" cy="740.2" rx="20.5" ry="6" transform="rotate(14 678.2 740.2)" fill="#fff" stroke-width="1.4"/><ellipse cx="678.2" cy="740" rx="18.5" ry="4.2" transform="rotate(14 678.2 740)" stroke-width="2.4"/><path d="M653,790 L654,797 Q670,806 686.7,801.8 L688,795" fill="#fff" stroke-width="1.4"/><ellipse cx="670.8" cy="785.5" rx="27" ry="7" transform="rotate(14 670.8 785.5)" fill="#fff" stroke-width="1.5"/><ellipse cx="671" cy="783.5" rx="22" ry="4.5" transform="rotate(14 671 783.5)" stroke-width="2.6"/><path d="M645,787 Q670,800 697,794"/><path d="M642,817 L642.5,823 Q665,833 688.8,831.5 L688.5,825" fill="#fff" stroke-width="1.4"/><ellipse cx="665.4" cy="820" rx="23.5" ry="7" transform="rotate(14 665.4 820)" fill="#fff" stroke-width="1.5"/><ellipse cx="665.8" cy="819.5" rx="20" ry="4.5" transform="rotate(14 665.8 819.5)" stroke-width="1.2"/><path d="M643,823 Q665,835 688.5,828" stroke-width="2.2"/></g>
<g fill="none" stroke="#111" stroke-width="1.3" stroke-linejoin="round" stroke-linecap="round"><path d="M549.4,1421.6 C525,1432 500,1470 496.3,1518.4 L486.7,1577"/><path d="M519.3,1577 L527,1528.6 C532,1505 540,1485 549.4,1469.7"/><path d="M561.6,1577 L566.7,1554.2 C572,1520 570,1490 562.2,1473.5 C556,1458 548,1446 550,1436.4 L549.4,1422"/><path d="M594.3,1577 L597.5,1562 C602,1510 598,1460 580.2,1431.2 C570,1432 558,1434 550.7,1442"/><path d="M496.3,1518.4 Q510,1525 527,1528.6 M566.7,1554.2 Q582,1560 597.5,1562"/><path d="M548,1442 L543.7,1465 L562.2,1473.5" fill="#fff"/><ellipse cx="547.5" cy="1453" rx="1.6" ry="2.5" fill="#111"/><path d="M562.9,1341.4 L546.9,1401.8 L591,1418.4 L595.8,1349.9 Z" fill="#fff"/><path d="M559,1357 Q575,1364 592.5,1367 M550,1390 Q570,1398 591,1404 M546.9,1401.8 Q566,1410 591,1414"/><path d="M540.5,1412 L540,1416 Q566,1430 595.5,1430 L595.5,1425" fill="#fff"/><ellipse cx="567.7" cy="1416" rx="28" ry="6.5" transform="rotate(15 567.7 1416)" fill="#fff"/><path d="M594.7,1150 L562.9,1341.4 M627.7,1155 L595.8,1349.9"/><path d="M594.7,1150 L627.7,1155 L595.8,1349.9 L562.9,1341.4 Z" fill="#fff" stroke="none"/><path d="M594.7,1150 L562.9,1341.4 M627.7,1155 L595.8,1349.9"/><ellipse cx="611.2" cy="1151.2" rx="16.5" ry="5" transform="rotate(10 611.2 1151.2)" fill="#fff"/><path d="M577.7,1174 L578,1180 Q605,1196 635.1,1196 L635,1189" fill="#fff" stroke-width="1.5"/><ellipse cx="606.4" cy="1181.5" rx="29" ry="8" transform="rotate(12 606.4 1181.5)" fill="#fff" stroke-width="1.5"/><ellipse cx="606.4" cy="1181.5" rx="18" ry="4.2" transform="rotate(12 606.4 1181.5)" fill="#fff" stroke-width="1.2"/><path d="M580,1182 Q606,1198 633,1190" stroke-width="2.4"/></g>
<ellipse cx="579.4" cy="1348" rx="29" ry="8" transform="rotate(13 579.4 1348)" fill="none" stroke="#8a2aa3" stroke-width="3.5"/><ellipse cx="579.4" cy="1348" rx="20" ry="4.2" transform="rotate(13 579.4 1348)" fill="none" stroke="#8a2aa3" stroke-width="1.2"/><path d="M565,1337 L569,1339.5 M592,1345 L596,1347" stroke="#111" stroke-width="1.2"/><g fill="none" stroke="#d4244a" stroke-width="1.6" stroke-linejoin="round"><ellipse cx="550" cy="1099" rx="14" ry="4" transform="rotate(15 550 1099)" /><ellipse cx="548" cy="1111" rx="14" ry="4" transform="rotate(15 548 1111)" /><path d="M542,1101 L541,1110 M557,1104 L555,1113 M538,1092 L544,1096 M562,1100 L558,1097"/></g>
<path d="M565,1106.6 L617,1120.4 L612.8,1148" fill="none" stroke="#111" stroke-width="1.5" stroke-dasharray="4,3.5"/>
<rect x="732.6" y="1224.7" width="88.1" height="111.7" rx="9" ry="9" fill="none" stroke="#333" stroke-width="1.5"/>
<g fill="none" stroke="#111" stroke-width="1.3" stroke-linejoin="round" stroke-linecap="round"><path d="M743.6,1266.5 L743.6,1309.2 Q743.6,1321.4 774,1321.4 Q804.5,1321.4 804.5,1309.2 L804.5,1266.5" fill="#fff" stroke-width="1.6"/><path d="M744,1310 Q774,1326 804,1310" stroke-width="2.2"/><ellipse cx="774" cy="1266.5" rx="30.5" ry="10.5" fill="#fff" stroke-width="3"/><ellipse cx="774" cy="1268" rx="26" ry="7" stroke-width="1.2"/><path d="M752,1268 Q758,1263 764,1268 Q770,1272 776,1266 Q783,1262 790,1268 M756,1272 Q766,1274 772,1270 Q780,1275 794,1272" stroke-width="1.2"/></g>
<path d="M793.1,1268.6 L813.8,1239.4" stroke="#111" stroke-width="3.6" stroke-linecap="round"/><path d="M793.1,1268.6 L813.8,1239.4" stroke="#fff" stroke-width="1.4" stroke-linecap="round"/>
<text x="774" y="1296.2" font-family="Liberation Sans" font-weight="bold" font-size="16" fill="#111" text-anchor="middle" textLength="47" lengthAdjust="spacingAndGlyphs">GREASE</text>
<path d="M732.6,1283 C700,1283 688,1300 665,1322 C650,1336 636,1344 622,1345.5" fill="none" stroke="#111" stroke-width="2.4"/>
<path d="M607.5,1345.6 L626,1334 L621,1345.5 L627,1356 Z" fill="#111"/>
<line x1="777.0" y1="588.5" x2="736.6" y2="588.5" stroke="#111" stroke-width="2"/><path d="M725.6,588.5 L738.6,582.5 L736.0,588.5 L738.6,594.5Z" fill="#111"/>
<line x1="777.0" y1="638.4" x2="736.6" y2="638.4" stroke="#111" stroke-width="2"/><path d="M725.6,638.4 L738.6,632.4 L736.0,638.4 L738.6,644.4Z" fill="#111"/>
<line x1="777.0" y1="695.4" x2="736.6" y2="695.4" stroke="#111" stroke-width="2"/><path d="M725.6,695.4 L738.6,689.4 L736.0,695.4 L738.6,701.4Z" fill="#111"/>
<line x1="777.0" y1="742.4" x2="736.6" y2="742.4" stroke="#111" stroke-width="2"/><path d="M725.6,742.4 L738.6,736.4 L736.0,742.4 L738.6,748.4Z" fill="#111"/>
<line x1="777.0" y1="795.9" x2="736.6" y2="795.9" stroke="#111" stroke-width="2"/><path d="M725.6,795.9 L738.6,789.9 L736.0,795.9 L738.6,801.9Z" fill="#111"/>
<line x1="777.0" y1="843.0" x2="732.8" y2="834.6" stroke="#111" stroke-width="2"/><path d="M722.0,832.6 L735.9,829.1 L732.2,834.5 L733.7,840.9Z" fill="#111"/>
<line x1="496.0" y1="1100.2" x2="509.3" y2="1100.2" stroke="#111" stroke-width="2"/><path d="M519.3,1100.2 L507.3,1105.7 L509.7,1100.2 L507.3,1094.7Z" fill="#111"/>
<line x1="496.0" y1="1167.0" x2="553.0" y2="1167.0" stroke="#111" stroke-width="2"/><path d="M564.0,1167.0 L551.0,1173.0 L553.6,1167.0 L551.0,1161.0Z" fill="#111"/>
<line x1="496.0" y1="1336.0" x2="522.1" y2="1336.0" stroke="#111" stroke-width="2"/><path d="M533.1,1336.0 L520.1,1342.0 L522.7,1336.0 L520.1,1330.0Z" fill="#111"/>
<text x="789" y="594.6" font-family="Liberation Sans" font-size="22.8" fill="#0c6fb7" stroke="#0c6fb7" stroke-width="0.35" textLength="112" lengthAdjust="spacingAndGlyphs">Pre-Load Bolt</text>
<text x="789" y="644.5" font-family="Liberation Sans" font-size="22.8" fill="#0c6fb7" stroke="#0c6fb7" stroke-width="0.35" textLength="69" lengthAdjust="spacingAndGlyphs">Top Cap</text>
<text x="789" y="702.5" font-family="Liberation Sans" font-size="22.8" fill="#0c6fb7" stroke="#0c6fb7" stroke-width="0.35" textLength="41.7" lengthAdjust="spacingAndGlyphs">Stem</text>
<text x="789" y="749" font-family="Liberation Sans" font-size="22.8" fill="#0c6fb7" stroke="#0c6fb7" stroke-width="0.35" textLength="66.6" lengthAdjust="spacingAndGlyphs">Spacers</text>
<text x="789" y="772" font-family="Liberation Sans" font-size="18" fill="#0c6fb7" stroke="#0c6fb7" stroke-width="0.35" textLength="96.2" lengthAdjust="spacingAndGlyphs">(if applicable)</text>
<text x="789" y="803" font-family="Liberation Sans" font-size="22.8" fill="#0c6fb7" stroke="#0c6fb7" stroke-width="0.35" textLength="86.2" lengthAdjust="spacingAndGlyphs">Top-Cover</text>
<text x="789" y="825.5" font-family="Liberation Sans" font-size="22.8" fill="#0c6fb7" stroke="#0c6fb7" stroke-width="0.35" textLength="79" lengthAdjust="spacingAndGlyphs">Assembly</text>
<text x="789" y="851" font-family="Liberation Sans" font-size="22.8" fill="#0c6fb7" stroke="#0c6fb7" stroke-width="0.35" textLength="63" lengthAdjust="spacingAndGlyphs">Bearing</text>
<text x="420.5" y="1104.4" font-family="Liberation Sans" font-size="22.8" fill="#0c6fb7" stroke="#0c6fb7" stroke-width="0.35" textLength="68.3" lengthAdjust="spacingAndGlyphs">Star-Nut</text>
<text x="425.8" y="1172" font-family="Liberation Sans" font-size="22.8" fill="#0c6fb7" stroke="#0c6fb7" stroke-width="0.35" textLength="63" lengthAdjust="spacingAndGlyphs">Bearing</text>
<text x="386.8" y="1340.7" font-family="Liberation Sans" font-size="22.8" fill="#0c6fb7" stroke="#0c6fb7" stroke-width="0.35" textLength="102" lengthAdjust="spacingAndGlyphs">Crown-Race</text>
<g fill="none" stroke="#111" stroke-width="1.3" stroke-linejoin="round" stroke-linecap="round"><path d="M1210,863.5 L1587,802 M1205.2,901 L1587,838"/><path d="M1216.5,863.5 L1228.7,883 L1205.2,889.5"/><path d="M1258,865 L1270,863 L1272,872 L1260,874 Z" stroke-width="1.5"/><path d="M1205.2,928.6 L1572,1135 M1236,984 L1498,1135"/><path d="M1203,960 L1243.5,983 L1240,986.5 Q1228,984 1212,978 L1203,973"/><path d="M1205,961 L1236,980" stroke-width="2.2"/><ellipse cx="1467" cy="1075.6" rx="2.4" ry="3.8" transform="rotate(-40 1467 1075.6)" fill="#444" stroke-width="1.3"/><ellipse cx="1511" cy="1100.6" rx="2.4" ry="3.8" transform="rotate(-40 1511 1100.6)" fill="#444" stroke-width="1.3"/><circle cx="1262" cy="1037" r="0.8" fill="#111"/><path d="M1155,986 C1146,1000 1141,1015 1140.6,1032 L1128,1135"/><path d="M1161,996 C1158,1010 1160,1025 1164,1036 L1153,1135"/><path d="M1161,1135 L1165.6,1038 C1166,1020 1164,1005 1161,997.5"/><path d="M1187.5,1135 L1192,1054 C1193,1030 1190,1005 1183,994"/><path d="M1140.6,1032 Q1152,1041 1164,1036 M1164.5,1104 Q1178,1111 1191,1106"/><path d="M1159,1000 Q1158,1008 1161,1012" stroke-width="1.6"/><path d="M1132,1100 L1140,1099 L1141,1113 L1133,1114 Z M1135,1096 L1135,1100" stroke-width="1.6"/></g>
<g fill="none" stroke="#111" stroke-width="1.3" stroke-linejoin="round" stroke-linecap="round"><path d="M1164.5,860.3 L1149.9,982.2 Q1176,1002 1203.5,982.2 L1206.8,860.3 Z" fill="#fff"/><path d="M1163,874 Q1185,896 1206.5,874 M1156,934 Q1180,958 1205,934 M1151,966 Q1177,990 1204,966"/><path d="M1150.5,979 Q1177,998 1203.8,979" stroke-width="1.5"/></g>
<ellipse cx="1185.5" cy="862" rx="21.5" ry="9" fill="#fff" stroke="#111" stroke-width="1.3"/><path d="M1164.5,862 Q1185.5,884 1206.8,862" fill="none" stroke="#111" stroke-width="3"/><ellipse cx="1185.5" cy="855" rx="18" ry="8" fill="#fff" stroke="#111" stroke-width="1.3"/><path d="M1167.5,855 Q1185.5,874 1203.5,855" fill="none" stroke="#111" stroke-width="3"/><ellipse cx="1185.5" cy="849" rx="15" ry="6.5" fill="#fff" stroke="#111" stroke-width="1.3"/><g fill="none" stroke="#111" stroke-width="1.3" stroke-linejoin="round" stroke-linecap="round"><path d="M1130.4,809.1 L1177.5,815.6 L1185.7,844 L1184,847.3 L1133.6,841.6 Z" fill="#fff" stroke="none"/><path d="M1130.4,809.1 L1177.5,815.6 M1133.6,841.6 L1181,847.3"/><path d="M1177.5,812.3 Q1178,830 1185.7,836 Q1188,845 1181,847.3 Q1176,848 1172,845" fill="#fff"/><path d="M1177.5,812.3 L1177.5,818 Q1186,835 1186,846 L1200.3,844 L1203.5,812.3" fill="#fff"/><ellipse cx="1190.5" cy="812.3" rx="13" ry="9.5" fill="#fff"/><ellipse cx="1190.5" cy="810.7" rx="2.6" ry="2" stroke-width="2"/><path d="M1201,820 L1208,818 Q1214,826 1213,840 Q1208,846 1201,844" fill="#fff"/><circle cx="1208.4" cy="837.5" r="3.3"/><path d="M1105,801 Q1118,798 1128,804 L1134,815 Q1140,830 1134,842 L1124,848 Q1112,850 1104,845 L1099,832 Q1097,815 1100,808 Z" fill="#fff" stroke-width="1.5"/><ellipse cx="1115" cy="830" rx="10" ry="13" fill="#fff" stroke-width="1.4"/><path d="M1104,806 L1112,822 M1128,806 Q1132,818 1126,832 M1110,802 Q1106,815 1108,820"/></g>
<path d="M1148,880 C1120,870 1085,866 1075,874 C1068,882 1085,896 1130,906 L1158,913" fill="none" stroke="#111" stroke-width="4" stroke-linecap="round"/>
<path d="M1156.4,883 L1136,872 L1141,880 L1134,891 Z" fill="#111"/>
<path d="M1170.2,911.5 L1155,898 L1156,907 L1150,918 Z" fill="#111"/>
<path d="M1478.4,556.4 L1424,556.4 L1241,760" fill="none" stroke="#111" stroke-width="2.4"/>
<path d="M1478.4,695 L1424,695 L1263,819" fill="none" stroke="#111" stroke-width="2.4"/>
<g transform="translate(1200.5 786.7) rotate(0.0) scale(1.0)"><path d="M0,0 L15.1,-19.9 Q17,-21.5 20,-22.5 L27.5,-25.5 L38.5,-11 L33,-4 Q30,0 26.8,0 L17.5,1.5 Q15.5,1.5 15.5,-0.5 L14.5,-8 L12.4,-8.2 L2.1,1 Q0.5,1.5 0,0 Z" fill="#fff" stroke="#111" stroke-width="1.2" stroke-linejoin="round"/><path d="M15.5,-10 L19,-13.5 L20.5,-16.5 L22,-13.5 L24,-16 L26,-13.5 L34,-13 L37.5,-10 L32,-5 Q29,-1.5 26,-1.5 L19,0 L16.5,-3 Z" fill="#111"/><path d="M16.2,0.2 L18.5,-1.2" stroke="#fff" stroke-width="1.3" fill="none"/><path d="M28.9,-31 L35.1,-37.1 L48.8,-17.9 L42.6,-11 Z" fill="#111"/><path d="M26,-26.5 L29,-29.5 L41,-13.8 L38,-10.8 Z" fill="#fff" stroke="#111" stroke-width="1"/></g><g transform="translate(1219.7 839.7) rotate(11.0) scale(1.0)"><path d="M0,0 L15.1,-19.9 Q17,-21.5 20,-22.5 L27.5,-25.5 L38.5,-11 L33,-4 Q30,0 26.8,0 L17.5,1.5 Q15.5,1.5 15.5,-0.5 L14.5,-8 L12.4,-8.2 L2.1,1 Q0.5,1.5 0,0 Z" fill="#fff" stroke="#111" stroke-width="1.2" stroke-linejoin="round"/><path d="M15.5,-10 L19,-13.5 L20.5,-16.5 L22,-13.5 L24,-16 L26,-13.5 L34,-13 L37.5,-10 L32,-5 Q29,-1.5 26,-1.5 L19,0 L16.5,-3 Z" fill="#111"/><path d="M16.2,0.2 L18.5,-1.2" stroke="#fff" stroke-width="1.3" fill="none"/><path d="M28.9,-31 L35.1,-37.1 L48.8,-17.9 L42.6,-11 Z" fill="#111"/><path d="M26,-26.5 L29,-29.5 L41,-13.8 L38,-10.8 Z" fill="#fff" stroke="#111" stroke-width="1"/></g><text x="1515.3" y="471" font-family="Liberation Sans" font-weight="bold" font-size="24" fill="#111" text-anchor="middle" textLength="19.5" lengthAdjust="spacingAndGlyphs">#1</text>
<text x="1515.5" y="636" font-family="Liberation Sans" font-weight="bold" font-size="24" fill="#111" text-anchor="middle" textLength="21" lengthAdjust="spacingAndGlyphs">#2</text>
<rect x="1478.4" y="478" width="82.6" height="105.6" rx="9" ry="9" fill="#fff" stroke="#111" stroke-width="2"/>
<rect x="1478.4" y="643" width="82.6" height="105" rx="9" ry="9" fill="#fff" stroke="#111" stroke-width="2"/>
<ellipse cx="1520" cy="531" rx="25" ry="31" fill="#a3a3a3" stroke="#222" stroke-width="1.5"/><path d="M1502.5,531.0 L1511.2,511.5 L1528.8,511.5 L1537.5,531.0 L1528.8,550.5 L1511.2,550.5Z" fill="#6e6e6e" stroke="#222" stroke-width="2"/><path d="M1546,531 L1558,531 M1552,525 L1552,537" stroke="#111" stroke-width="3.6"/>
<ellipse cx="1512" cy="698" rx="25" ry="31" fill="#a3a3a3" stroke="#222" stroke-width="1.5"/><path d="M1494.5,698.0 L1503.2,678.5 L1520.8,678.5 L1529.5,698.0 L1520.8,717.5 L1503.2,717.5Z" fill="#6e6e6e" stroke="#222" stroke-width="2"/><path d="M1543,696 L1557,696 M1550,689 L1550,703" stroke="#111" stroke-width="4.2"/>
<path d="M1493.4,505.0 L1494.1,503.7 L1494.8,502.4 L1495.6,501.1 L1496.4,499.9 L1497.3,498.7 L1498.2,497.6 L1499.2,496.5 L1500.3,495.5 L1501.3,494.5 L1502.5,493.6 L1503.6,492.7 L1504.8,491.9 L1506.0,491.1 L1507.3,490.4 L1508.6,489.8 L1509.9,489.2 L1511.2,488.7 L1512.6,488.2 L1514.0,487.9 L1515.4,487.6 L1516.8,487.3 L1518.2,487.1 L1519.6,487.0 L1521.0,487.0 L1522.4,487.0 L1523.8,487.1 L1525.2,487.3 L1526.6,487.6 L1528.0,487.9 L1529.4,488.2 L1530.8,488.7 L1532.1,489.2 L1533.4,489.8 L1534.7,490.4 L1536.0,491.1 L1537.2,491.9 L1538.4,492.7 L1539.5,493.6 L1540.7,494.5 L1541.7,495.5" fill="none" stroke="#111" stroke-width="2.2"/><path d="M1550.1,508.7 L1535.8,499.2 L1543.8,498.8 L1547.7,491.7Z" fill="#111"/>
<path d="M1485.8,674.7 L1486.3,673.1 L1486.9,671.5 L1487.6,670.0 L1488.3,668.5 L1489.1,667.0 L1489.9,665.6 L1490.8,664.2 L1491.7,662.9 L1492.7,661.7 L1493.7,660.5 L1494.8,659.3 L1495.9,658.2 L1497.1,657.2 L1498.3,656.3 L1499.6,655.4 L1500.8,654.6 L1502.2,653.9 L1503.5,653.3 L1504.9,652.7 L1506.2,652.2 L1507.6,651.8 L1509.0,651.5 L1510.5,651.2 L1511.9,651.1 L1513.3,651.0 L1514.8,651.0 L1516.2,651.1 L1517.7,651.3 L1519.1,651.5 L1520.5,651.9 L1521.9,652.3 L1523.3,652.8 L1524.6,653.3 L1526.0,654.0 L1527.3,654.7 L1528.5,655.5 L1529.8,656.4 L1531.0,657.3 L1532.2,658.3 L1533.3,659.4" fill="none" stroke="#111" stroke-width="2.2"/><path d="M1541.8,673.5 L1527.3,663.0 L1535.4,662.9 L1539.3,655.8Z" fill="#111"/>
<text x="1520.5" y="578" font-family="Liberation Sans" font-weight="bold" font-size="11" fill="#222" text-anchor="middle" textLength="35" lengthAdjust="spacingAndGlyphs">1.1 - 1.7 Nm</text>
<path d="M1030.3,635.1 L1052.6,683.3 L1008.6,683.3 Z" fill="#f7ec00" stroke="#111" stroke-width="2.2" stroke-linejoin="miter"/>
<path d="M1030.3,651.6 L1030.3,671" stroke="#111" stroke-width="2.2"/><circle cx="1030.3" cy="675.7" r="1.4" fill="#111"/>
<rect x="1070.4" y="628.3" width="82.6" height="105.2" rx="8" ry="8" fill="#fff" stroke="#111" stroke-width="1.6"/>
<ellipse cx="1111.7" cy="680.5" rx="29.2" ry="37.8" fill="none" stroke="#1a1a1a" stroke-width="6.2"/>
<path d="M1094.5,708 L1127.5,651" stroke="#1a1a1a" stroke-width="6"/>
<path d="M1060,753 L1166,748.5" stroke="#1a1a1a" stroke-width="5"/>
<path d="M1030.6,755.5 L1066,736.5 L1060,754 L1066,773 Z" fill="#1a1a1a"/>
<path d="M1196.3,747.2 L1161,730 L1166,748 L1162,768 Z" fill="#1a1a1a"/>
<rect x="991.75" y="886" width="82.85" height="105.4" rx="10" ry="10" fill="none" stroke="#111" stroke-width="2"/>
<path d="M1021.5,951.0 L1023.1,950.1 L1024.5,949.1 L1025.9,948.1 L1027.2,947.0 L1028.6,945.9 L1029.9,944.8 L1031.2,943.7 L1032.5,942.6 L1033.8,941.5 L1035.0,940.4 L1036.3,939.2 L1037.5,938.1 L1038.7,936.9 L1039.9,935.7 L1041.1,934.5 L1042.3,933.3 L1043.5,932.1 L1044.7,930.9 L1045.8,929.7 L1046.9,928.5 L1048.0,927.2 L1049.2,925.9 L1050.2,924.7 L1051.3,923.4 L1052.4,922.1 L1053.4,920.8 L1054.4,919.5 L1055.5,918.1 L1056.5,916.8 L1057.5,915.4 L1058.4,914.1 L1059.4,912.7 L1060.3,911.3 L1061.3,909.9 L1062.2,908.6 L1063.1,907.1 L1063.8,905.5 L1064.3,903.8 L1064.4,901.8 L1063.0,898.5 L1063.0,898.5 L1059.5,897.9 L1057.6,898.5 L1056.0,899.4 L1054.6,900.4 L1053.4,901.6 L1052.3,902.8 L1051.1,904.1 L1050.0,905.3 L1048.9,906.5 L1047.8,907.8 L1046.7,909.1 L1045.6,910.4 L1044.6,911.7 L1043.5,913.0 L1042.5,914.3 L1041.5,915.6 L1040.5,917.0 L1039.5,918.3 L1038.5,919.7 L1037.6,921.0 L1036.6,922.4 L1035.7,923.8 L1034.8,925.2 L1033.9,926.7 L1033.0,928.1 L1032.1,929.5 L1031.2,931.0 L1030.4,932.4 L1029.6,933.9 L1028.7,935.4 L1027.9,936.9 L1027.1,938.4 L1026.3,939.9 L1025.6,941.4 L1024.8,943.0 L1024.1,944.5 L1023.4,946.1 L1022.7,947.7 L1022.0,949.3 L1021.5,951.0Z" fill="#fff" stroke="#111" stroke-width="1.5" stroke-linejoin="round"/>
<path d="M1024.0,949.3 L1025.8,945.6 L1022.5,948.2 M1026.8,947.2 L1027.9,942.9 L1024.0,945.0 M1029.5,944.9 L1030.0,940.2 L1025.6,941.9 M1032.1,942.6 L1032.1,937.5 L1027.2,938.8 M1034.7,940.3 L1034.3,934.8 L1028.9,935.7 M1037.2,937.9 L1036.4,932.2 L1030.6,932.7 M1039.6,935.5 L1038.5,929.5 L1032.4,929.8 M1042.1,933.0 L1040.7,926.8 L1034.3,926.8 M1044.4,930.5 L1042.8,924.1 L1036.2,924.0 M1046.7,928.0 L1044.9,921.4 L1038.1,921.1 M1049.0,925.4 L1047.0,918.7 L1040.1,918.3 M1051.2,922.7 L1049.2,916.0 L1042.1,915.6 M1053.4,920.1 L1051.3,913.3 L1044.3,912.9 M1055.4,917.3 L1053.4,910.6 L1046.4,910.2 M1057.5,914.6 L1055.6,907.9 L1048.6,907.6 M1059.5,911.8 L1057.7,905.2 L1050.9,905.0 M1061.4,908.9 L1059.8,902.5 L1053.2,902.4 " fill="none" stroke="#111" stroke-width="1.1"/>
<path d="M1022,950 L1010.9,971.9" fill="none" stroke="#111" stroke-width="1.2"/>
<path d="M782.0,83.0 L784.2,88.9 L790.6,89.2 L785.6,93.2 L787.3,99.3 L782.0,95.8 L776.7,99.3 L778.4,93.2 L773.4,89.2 L779.8,88.9Z" fill="#1e48f5"/>
<defs><clipPath id="flagc"><circle cx="782" cy="260" r="11.5"/></clipPath></defs>
<g clip-path="url(#flagc)"><rect x="770" y="248" width="24" height="24" fill="#283c8e"/><path d="M770,248 L794,272 M794,248 L770,272" stroke="#fff" stroke-width="4"/><path d="M770,248 L794,272 M794,248 L770,272" stroke="#d22" stroke-width="1.5"/><path d="M782,248 V272 M770,260 H794" stroke="#fff" stroke-width="6"/><path d="M782,248 V272 M770,260 H794" stroke="#d22" stroke-width="3.2"/></g>
<circle cx="782" cy="260" r="11.5" fill="none" stroke="#e4e4e4" stroke-width="1"/>
<text x="748" y="126" transform="rotate(-62 748 126)" font-family="Liberation Serif" font-style="italic" font-size="18" fill="#5a7080" text-anchor="middle" textLength="24" lengthAdjust="spacingAndGlyphs">Est</text>
<text x="814" y="124" transform="rotate(47 814 124)" font-family="Liberation Serif" font-style="italic" font-size="17" fill="#5a7080" text-anchor="middle" textLength="33" lengthAdjust="spacingAndGlyphs">2020</text>
<text x="743" y="232" transform="rotate(55 743 232)" font-family="Liberation Serif" font-style="italic" font-size="18" fill="#5a7080" text-anchor="middle" textLength="30" lengthAdjust="spacingAndGlyphs">Bike</text>
<text x="821" y="237" transform="rotate(-58 821 237)" font-family="Liberation Serif" font-style="italic" font-size="18" fill="#5a7080" text-anchor="middle" textLength="36" lengthAdjust="spacingAndGlyphs">Parts</text>
<g fill="none" stroke="#2a2a2a" stroke-width="1.7" stroke-linecap="square" stroke-linejoin="miter"><path transform="translate(1061.5 1540) scale(0.9 1.04)" d="M1,3 H15 M2,8 H14 M8,0 L6,12 M2,12 H13 L9,17 M5,14 L9,17"/><path transform="translate(1078.0 1540) scale(0.9 1.04)" d="M5,1 V15 M11,1 V15 M1,15 H15 M2,6 L4,11 M14,6 L12,11"/><path transform="translate(1094.5 1540) scale(0.9 1.04)" d="M4,0 L1,6 L5,7 L1,12 H5 M1,17 L6,14 M7,3 H15 M11,0 V8 M8,8 H14 M8,11 H14 V17 H8 Z"/><path transform="translate(1111.0 1540) scale(0.9 1.04)" d="M0,5 H6 M3,0 V18 M3,6 L0,12 M3,7 L6,10 M9,0 L7,6 M8,4 H15 V16 L13,17 M10,8 L9,13 H13"/><path transform="translate(1127.5 1540) scale(0.9 1.04)" d="M8,0 V2 M1,6 V3 H15 V6 M7,5 L4,12 L14,16 M12,8 L4,17 M1,10 H15"/><path transform="translate(1144.0 1540) scale(0.9 1.04)" d="M2,1 V7 M6,0 V7 M4,3 H9 M4,7 H9 M11,0 V3 M10,4 H15 M1,9 H15 M8,8 V10 M6,10 L2,17 M5,13 V17 M9,12 L15,17 M12,11 L14,10"/><path transform="translate(1160.5 1540) scale(0.9 1.04)" d="M1,2 L3,4 M1,13 L3,9 M8,0 L5,8 M6,5 V18 M7,4 H15 M10,1 V17 M7,8 H14 M7,12 H14 M7,17 H15"/><path transform="translate(1177.0 1540) scale(0.9 1.04)" d="M6,0 L2,5 M5,2 H12 L3,9 M6,4 L14,9 M3,10 H13 V17 H3 Z M8,10 V17 M3,13.5 H13"/><path transform="translate(1193.5 1540) scale(0.9 1.04)" d="M1,3 L7,1 M0,6 H8 M4,2 V18 M4,7 L0,13 M4,8 L8,11 M10,5 H15 V15 H10 Z"/><path transform="translate(1210.0 1540) scale(0.9 1.04)" d="M1,1 H15 M4,1 V15 M12,1 V18 M4,6 H12 M4,10 H12 M0,16 L16,13"/><path transform="translate(1226.5 1540) scale(0.9 1.04)" d="M0,5 H6 M3,0 V18 M3,6 L0,12 M3,7 L6,10 M8,2 H12 V15 Q12,17 16,17 V14 M8,2 V11 L6,17"/><path transform="translate(1243.0 1540) scale(0.9 1.04)" d="M0,6 H5 M3,0 V16 L1,17 M0,12 L5,9 M9,0 L7,6 M8,4 V18 M9,3 H15 M12,1 V17 M9,7 H15 M9,11 H15 M9,17 H16"/><path transform="translate(1259.5 1540) scale(0.9 1.04)" d="M0,3 H16 M5,0 V5 M11,0 V5 M1,7 H15 M7,6 L1,14 M4,11 V18 M7,10 H13 L10,13 V17 L8,18 M6,14 H15"/></g>

</svg>
</body></html>
